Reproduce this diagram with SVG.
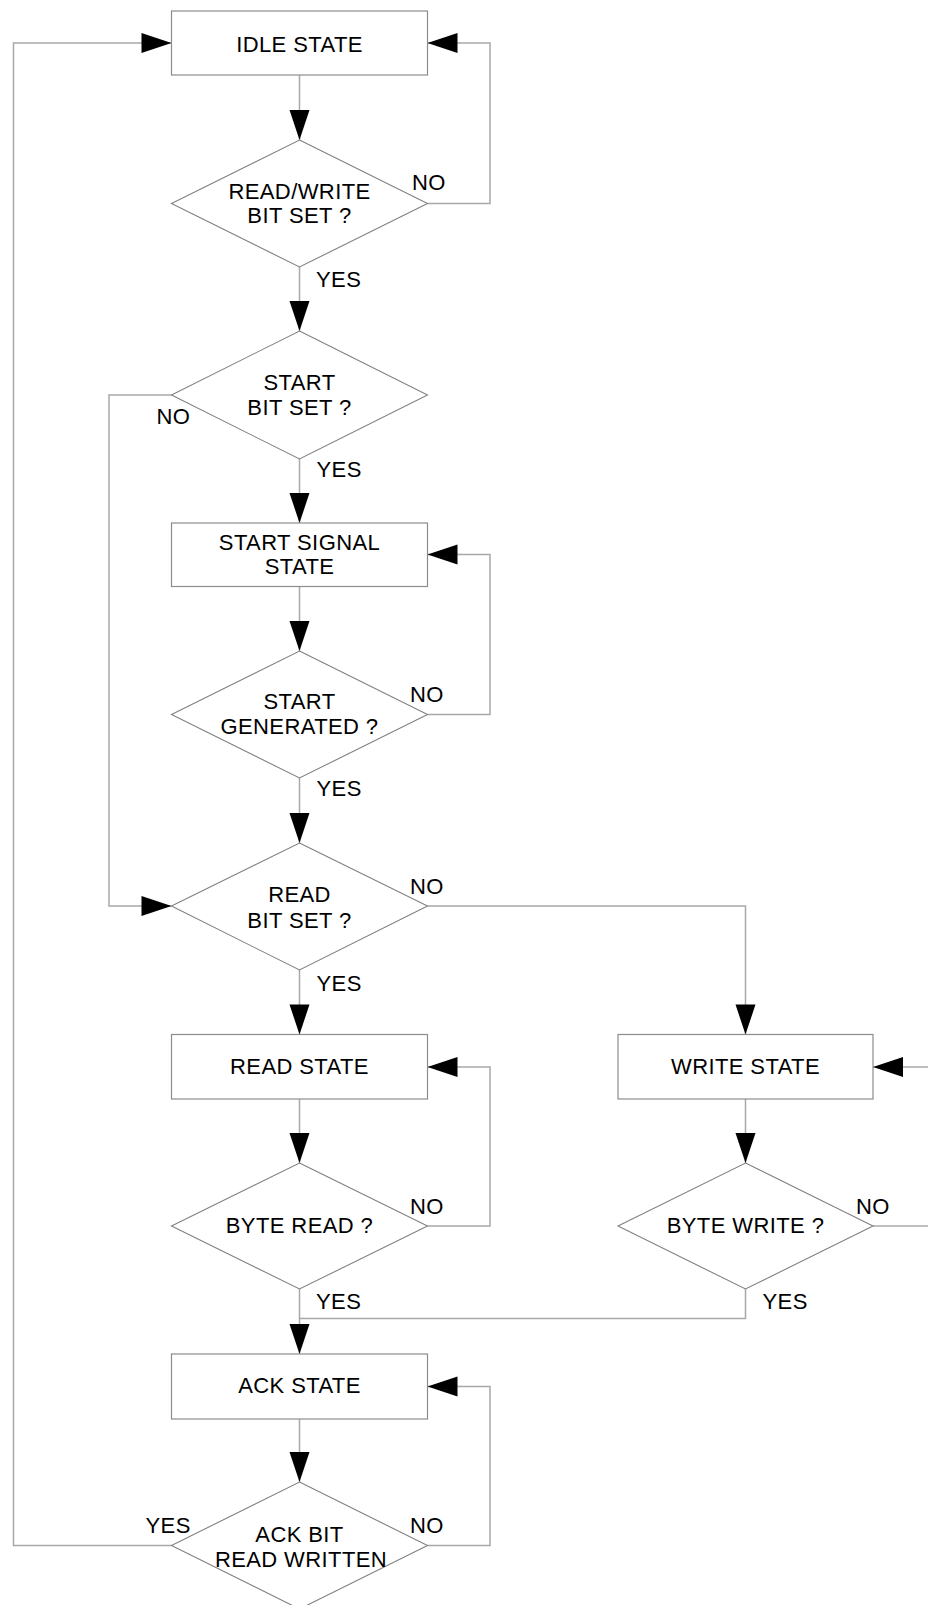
<svg xmlns="http://www.w3.org/2000/svg" width="928" height="1605" viewBox="0 0 928 1605">
  <style>
    .box { fill: #ffffff; stroke: #8c8c8c; stroke-width: 1.2; }
    .dec { fill: #ffffff; stroke: #808080; stroke-width: 1.1; }
    .wire { fill: none; stroke: #a8a8a8; stroke-width: 1.5; }
    .arr { marker-end: url(#head); }
    text { font-family: "Liberation Sans", Arial, Helvetica, sans-serif; font-size: 22px; letter-spacing: 0.4px; fill: #000000; }
    .c { text-anchor: middle; }
    .lbl { text-anchor: start; }
  </style>
  <defs>
    <marker id="head" markerUnits="userSpaceOnUse" markerWidth="30" markerHeight="20" refX="30" refY="10" orient="auto" overflow="visible">
      <path d="M0,0 L30,10 L0,20 Z" fill="#000000"/>
    </marker>
  </defs>
  <rect width="928" height="1605" fill="#ffffff"/>

  <!-- connectors -->
  <g id="connectors">
    <path class="wire arr" d="M299.5,75 V140"/>
    <path class="wire arr" d="M427.5,203.5 H490 V43 H427.5"/>
    <path class="wire arr" d="M299.5,267 V331"/>
    <path class="wire arr" d="M171.5,395 H109 V906 H171.5"/>
    <path class="wire arr" d="M299.5,459 V523"/>
    <path class="wire arr" d="M299.5,586.5 V651"/>
    <path class="wire arr" d="M427.5,714.5 H490 V554.5 H427.5"/>
    <path class="wire arr" d="M299.5,778 V843"/>
    <path class="wire arr" d="M427.5,906 H745.5 V1034.5"/>
    <path class="wire arr" d="M299.5,970 V1034.5"/>
    <path class="wire arr" d="M299.5,1099 V1163"/>
    <path class="wire arr" d="M745.5,1099 V1163"/>
    <path class="wire arr" d="M427.5,1226 H490 V1067 H427.5"/>
    <path class="wire" d="M873,1226 H930"/>
    <path class="wire arr" d="M930,1067 H873"/>
    <path class="wire arr" d="M299.5,1289 V1354"/>
    <path class="wire" d="M745.5,1289 V1318.5 H299.5"/>
    <path class="wire arr" d="M299.5,1419 V1482"/>
    <path class="wire arr" d="M427.5,1545.5 H490 V1386.5 H427.5"/>
    <path class="wire arr" d="M171.5,1545.5 H13.5 V43 H171.5"/>
  </g>

  <!-- states -->
  <g id="idle-state">
    <rect class="box" x="171.5" y="11" width="256" height="64"/>
    <text class="c" x="299.5" y="51.5">IDLE STATE</text>
  </g>
  <g id="rw-bit-set">
    <polygon class="dec" points="299.5,140 427.5,203.5 299.5,267 171.5,203.5"/>
    <text class="c" x="299.5" y="199">READ/WRITE</text>
    <text class="c" x="299.5" y="223.3">BIT SET ?</text>
    <text class="lbl" x="412" y="190">NO</text>
    <text class="lbl" x="316" y="286.7">YES</text>
  </g>
  <g id="start-bit-set">
    <polygon class="dec" points="299.5,331 427.5,395 299.5,459 171.5,395"/>
    <text class="c" x="299.5" y="390">START</text>
    <text class="c" x="299.5" y="415">BIT SET ?</text>
    <text class="lbl" x="156.5" y="424">NO</text>
    <text class="lbl" x="316.5" y="476.7">YES</text>
  </g>
  <g id="start-signal-state">
    <rect class="box" x="171.5" y="523" width="256" height="63.5"/>
    <text class="c" x="299.5" y="550">START SIGNAL</text>
    <text class="c" x="299.5" y="574">STATE</text>
  </g>
  <g id="start-generated">
    <polygon class="dec" points="299.5,651 427.5,714.5 299.5,778 171.5,714.5"/>
    <text class="c" x="299.5" y="709.3">START</text>
    <text class="c" x="299.5" y="734.3">GENERATED ?</text>
    <text class="lbl" x="410" y="701.7">NO</text>
    <text class="lbl" x="316.5" y="796">YES</text>
  </g>
  <g id="read-bit-set">
    <polygon class="dec" points="299.5,843 427.5,906 299.5,970 171.5,906"/>
    <text class="c" x="299.5" y="901.7">READ</text>
    <text class="c" x="299.5" y="927.5">BIT SET ?</text>
    <text class="lbl" x="410" y="894.3">NO</text>
    <text class="lbl" x="316.5" y="990.7">YES</text>
  </g>
  <g id="read-state">
    <rect class="box" x="171.5" y="1034.5" width="256" height="64.5"/>
    <text class="c" x="299.5" y="1074">READ STATE</text>
  </g>
  <g id="write-state">
    <rect class="box" x="618" y="1034.5" width="255" height="64.5"/>
    <text class="c" x="745.5" y="1074">WRITE STATE</text>
  </g>
  <g id="byte-read">
    <polygon class="dec" points="299.5,1163 427.5,1226 299.5,1289 171.5,1226"/>
    <text class="c" x="299.5" y="1233.3">BYTE READ ?</text>
    <text class="lbl" x="410" y="1214.3">NO</text>
    <text class="lbl" x="316" y="1309.3">YES</text>
  </g>
  <g id="byte-write">
    <polygon class="dec" points="745.5,1163 873,1226 745.5,1289 618,1226"/>
    <text class="c" x="745.5" y="1233.3">BYTE WRITE ?</text>
    <text class="lbl" x="856" y="1214.3">NO</text>
    <text class="lbl" x="762.5" y="1309.3">YES</text>
  </g>
  <g id="ack-state">
    <rect class="box" x="171.5" y="1354" width="256" height="65"/>
    <text class="c" x="299.5" y="1393.3">ACK STATE</text>
  </g>
  <g id="ack-bit">
    <polygon class="dec" points="299.5,1482 427.5,1545.5 299.5,1609 171.5,1545.5"/>
    <text class="c" x="299.5" y="1542.3">ACK BIT</text>
    <text class="c" x="301" y="1567.3">READ WRITTEN</text>
    <text class="lbl" x="145.5" y="1533.3">YES</text>
    <text class="lbl" x="410" y="1533.3">NO</text>
  </g>
</svg>
